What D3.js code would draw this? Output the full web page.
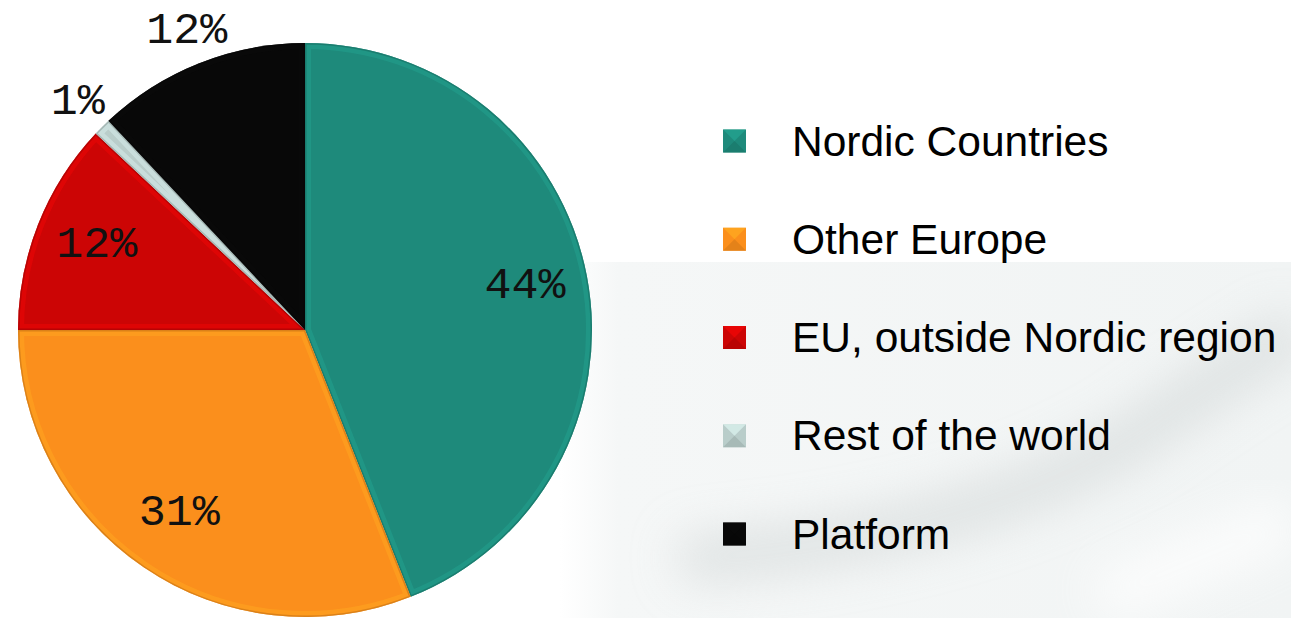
<!DOCTYPE html>
<html>
<head>
<meta charset="utf-8">
<script src="https://cdn.jsdelivr.net/npm/d3@7"></script>
<style>
  body { margin: 0; background: #ffffff; }
  svg { display: block; }
</style>
</head>
<body>
<svg id="chart"></svg>
<script>
// chart data
const categories = ["Nordic Countries", "Other Europe", "EU, outside Nordic region", "Rest of the world", "Platform"];
const shares = [44, 31, 12, 1, 12];
const labels = ["44%", "31%", "12%", "1%", "12%"];
const colors = ["#1e8a7b", "#fb8f1c", "#cc0505", "#b9cdca", "#080808"];
const outsideLabels = ["Rest of the world", "Platform"];

const width = 1291, height = 618;
const cx = 305, cy = 330, radius = 287;

const svg = d3.select("#chart").attr("width", width).attr("height", height);
const defs = svg.append("defs");

// faint background watermark in the lower right
const blur = defs.append("filter").attr("id", "blur").attr("x", "-50%").attr("y", "-50%")
    .attr("width", "200%").attr("height", "200%");
blur.append("feGaussianBlur").attr("stdDeviation", 24);

const bgGrad = defs.append("linearGradient").attr("id", "bgGrad")
    .attr("x1", "0").attr("y1", "0").attr("x2", "1").attr("y2", "0");
bgGrad.append("stop").attr("offset", "0").attr("stop-color", "#f5f7f7").attr("stop-opacity", 0);
bgGrad.append("stop").attr("offset", "0.08").attr("stop-color", "#f5f7f7").attr("stop-opacity", 1);
bgGrad.append("stop").attr("offset", "1").attr("stop-color", "#f1f4f4").attr("stop-opacity", 1);

const bgClip = defs.append("clipPath").attr("id", "bgClip");
bgClip.append("rect").attr("x", 560).attr("y", 262).attr("width", 731).attr("height", 356);

const bg = svg.append("g").attr("clip-path", "url(#bgClip)");
bg.append("rect").attr("x", 560).attr("y", 262).attr("width", 731).attr("height", 356)
    .attr("fill", "url(#bgGrad)");
bg.append("path")
    .attr("d", "M 680 560 Q 960 540 1130 440 Q 1230 370 1300 330")
    .attr("fill", "none").attr("stroke", "#d3d8d8").attr("stroke-width", 44)
    .attr("opacity", 0.7).attr("filter", "url(#blur)");
bg.append("path")
    .attr("d", "M 620 470 L 900 470")
    .attr("fill", "none").attr("stroke", "#e6ebeb").attr("stroke-width", 50)
    .attr("opacity", 0.7).attr("filter", "url(#blur)");
bg.append("path")
    .attr("d", "M 1100 600 L 1291 520")
    .attr("fill", "none").attr("stroke", "#ffffff").attr("stroke-width", 50)
    .attr("opacity", 0.8).attr("filter", "url(#blur)");

// pie
const pie = d3.pie().sort(null).value(d => d.value);
const data = categories.map((c, i) => ({ name: c, value: shares[i], label: labels[i], color: colors[i] }));
const arcs = pie(data);

const arc = d3.arc().innerRadius(0).outerRadius(radius);
const insideArc = d3.arc().innerRadius(radius * 0.78).outerRadius(radius * 0.78);
const outsideArc = d3.arc().innerRadius(radius * 1.12).outerRadius(radius * 1.12);

const g = svg.append("g").attr("transform", `translate(${cx},${cy})`);

arcs.forEach((a, i) => {
    defs.append("clipPath").attr("id", "clip" + i)
        .append("path").attr("d", arc(a));
});

const slices = g.selectAll("g.slice").data(arcs).enter().append("g").attr("class", "slice");

slices.append("path")
    .attr("d", arc)
    .attr("fill", d => d.data.color);

// bevel highlight / shadow along each slice edge
slices.append("path")
    .attr("d", arc)
    .attr("fill", "none")
    .attr("clip-path", (d, i) => `url(#clip${i})`)
    .attr("stroke", d => d3.color(d.data.color).brighter(0.5))
    .attr("stroke-opacity", 0.45)
    .attr("stroke-width", 12);
slices.append("path")
    .attr("d", arc)
    .attr("fill", "none")
    .attr("clip-path", (d, i) => `url(#clip${i})`)
    .attr("stroke", d => d3.color(d.data.color).darker(0.7))
    .attr("stroke-opacity", 0.6)
    .attr("stroke-width", 3);

// percentage labels
g.selectAll("text.pct").data(arcs).enter().append("text")
    .attr("class", "pct")
    .attr("transform", d => {
        const outside = outsideLabels.includes(d.data.name);
        const p = outside ? outsideArc.centroid(d) : insideArc.centroid(d);
        return `translate(${p[0]},${p[1] + (outside ? 0 : -2)})`;
    })
    .attr("text-anchor", "middle")
    .attr("dominant-baseline", "central")
    .attr("font-family", "'Liberation Mono', 'Courier New', monospace")
    .attr("font-size", 45)
    .attr("fill", "#111")
    .text(d => d.data.label);

// legend
const legendY = d3.scalePoint().domain(categories).range([141, 534]);
const legend = svg.append("g");
const items = legend.selectAll("g").data(data).enter().append("g")
    .attr("transform", d => `translate(723,${legendY(d.name)})`);

items.append("rect")
    .attr("x", 0).attr("y", -11.5).attr("width", 23).attr("height", 23)
    .attr("fill", d => d.color);
// pyramid facets on the legend keys
items.append("path")
    .attr("d", "M0,-11.5 L11.5,0 L23,-11.5 Z")
    .attr("fill", d => d3.color(d.color).brighter(0.5)).attr("opacity", 0.7);
items.append("path")
    .attr("d", "M0,11.5 L11.5,0 L23,11.5 Z")
    .attr("fill", d => d3.color(d.color).darker(0.4)).attr("opacity", 0.7);

items.append("text")
    .attr("x", 69).attr("y", 0)
    .attr("dominant-baseline", "central")
    .attr("font-family", "'Liberation Sans', Arial, sans-serif")
    .attr("font-size", 42.5)
    .attr("fill", "#000")
    .text(d => d.name);
</script>
</body>
</html>
